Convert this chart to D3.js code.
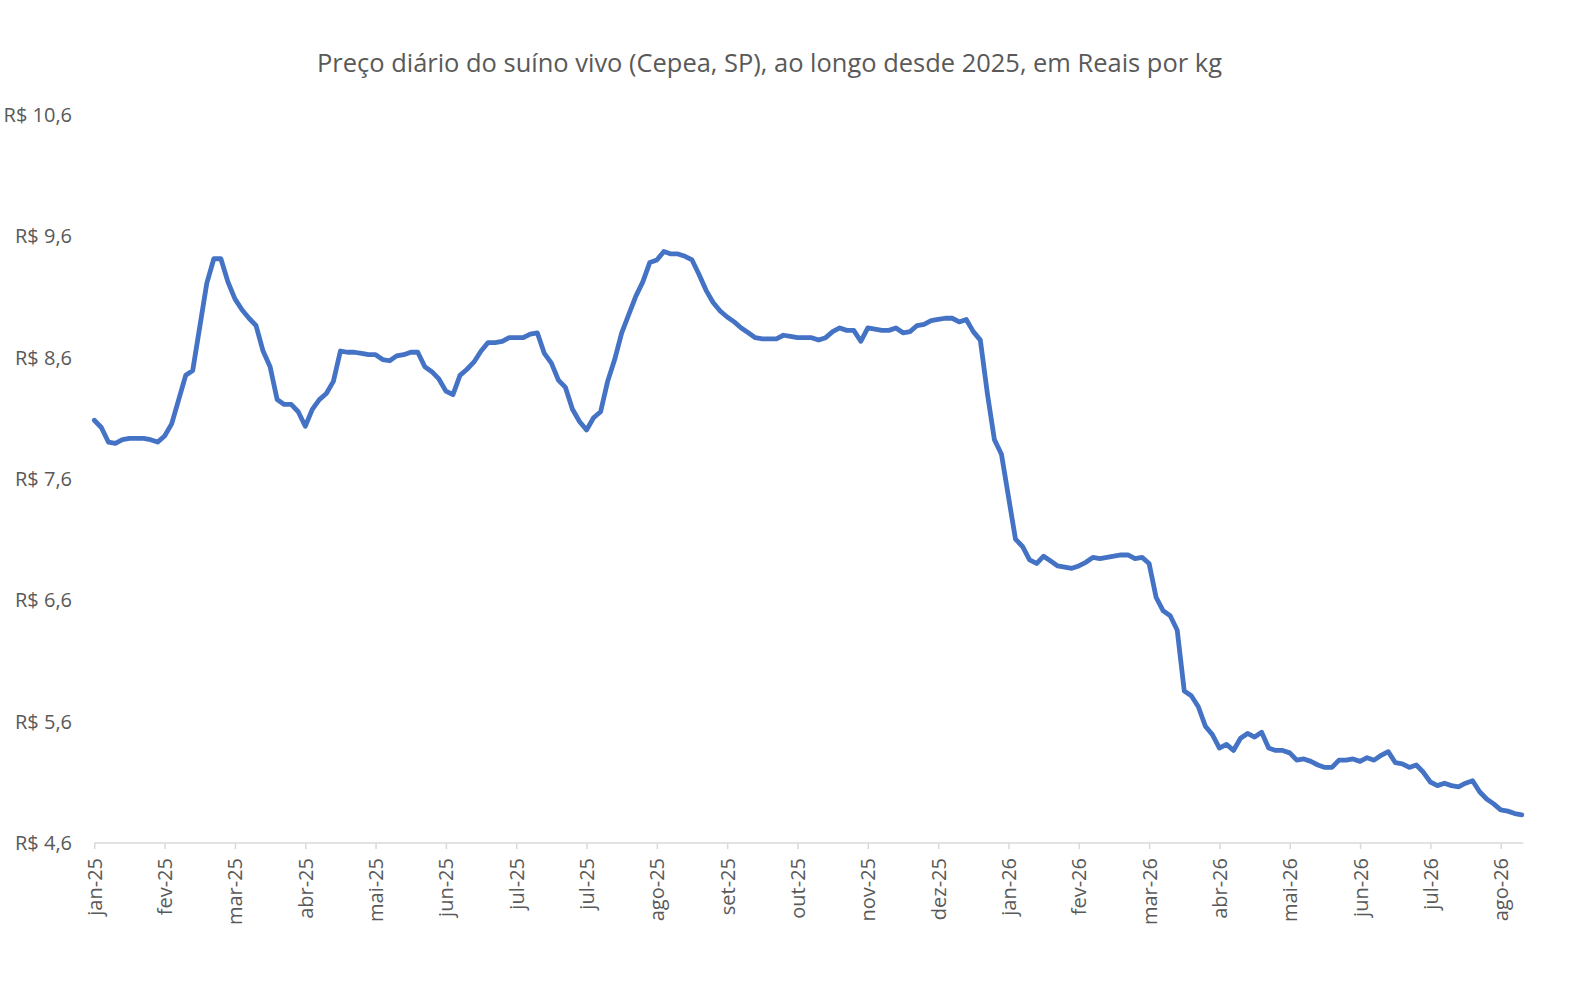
<!DOCTYPE html>
<html>
<head>
<meta charset="utf-8">
<script src="https://cdnjs.cloudflare.com/ajax/libs/d3/7.8.5/d3.min.js"></script>
<style>
  html, body { margin: 0; padding: 0; background: #ffffff; }
  svg { display: block; }
</style>
</head>
<body>
<svg id="chart" width="1581" height="984"></svg>
<script>
// ---- data ----
const titleText = "Preço diário do suíno vivo (Cepea, SP), ao longo desde 2025, em Reais por kg";

const tickLabels = ["jan-25","fev-25","mar-25","abr-25","mai-25","jun-25","jul-25","jul-25",
  "ago-25","set-25","out-25","nov-25","dez-25","jan-26","fev-26","mar-26","abr-26",
  "mai-26","jun-26","jul-26","ago-26"];

const pointsPerLabel = 10;

const yTicks = [4.6, 5.6, 6.6, 7.6, 8.6, 9.6, 10.6];

const prices = [
  8.08, 8.02, 7.90, 7.89, 7.92, 7.93, 7.93, 7.93, 7.92, 7.90,
  7.95, 8.05, 8.25, 8.45, 8.49, 8.85, 9.21, 9.41, 9.41, 9.22,
  9.08, 8.99, 8.92, 8.86, 8.65, 8.52, 8.25, 8.21, 8.21, 8.15,
  8.03, 8.17, 8.25, 8.30, 8.40, 8.65, 8.64, 8.64, 8.63, 8.62,
  8.62, 8.58, 8.57, 8.61, 8.62, 8.64, 8.64, 8.52, 8.48, 8.42,
  8.32, 8.29, 8.45, 8.50, 8.56, 8.65, 8.72, 8.72, 8.73, 8.76,
  8.76, 8.76, 8.79, 8.80, 8.63, 8.55, 8.41, 8.35, 8.17, 8.07,
  8.00, 8.10, 8.15, 8.40, 8.58, 8.80, 8.95, 9.10, 9.22, 9.38,
  9.40, 9.47, 9.45, 9.45, 9.43, 9.40, 9.28, 9.15, 9.05, 8.98,
  8.93, 8.89, 8.84, 8.80, 8.76, 8.75, 8.75, 8.75, 8.78, 8.77,
  8.76, 8.76, 8.76, 8.74, 8.76, 8.81, 8.84, 8.82, 8.82, 8.73,
  8.84, 8.83, 8.82, 8.82, 8.84, 8.80, 8.81, 8.86, 8.87, 8.90,
  8.91, 8.92, 8.92, 8.89, 8.91, 8.81, 8.74, 8.30, 7.92, 7.80,
  7.45, 7.10, 7.04, 6.93, 6.90, 6.96, 6.92, 6.88, 6.87, 6.86,
  6.88, 6.91, 6.95, 6.94, 6.95, 6.96, 6.97, 6.97, 6.94, 6.95,
  6.90, 6.62, 6.51, 6.47, 6.35, 5.85, 5.81, 5.72, 5.56, 5.49,
  5.38, 5.41, 5.36, 5.46, 5.50, 5.47, 5.51, 5.38, 5.36, 5.36,
  5.34, 5.28, 5.29, 5.27, 5.24, 5.22, 5.22, 5.28, 5.28, 5.29,
  5.27, 5.30, 5.28, 5.32, 5.35, 5.26, 5.25, 5.22, 5.24, 5.18,
  5.10, 5.07, 5.09, 5.07, 5.06, 5.09, 5.11, 5.02, 4.96, 4.92,
  4.87, 4.86, 4.84, 4.83
];

// ---- drawing ----
const svg = d3.select("#chart");
const textColor = "#595959";
const fontFam = "'Open Sans', 'Noto Sans', sans-serif";

const n = prices.length;
const x = d3.scaleLinear()
  .domain([0, n - 1])
  .range([94.3, 94.3 + (n - 1) * 7.032]);

const y = d3.scaleLinear()
  .domain([4.6, 10.6])
  .range([842.7, 114.3]);

// title
const title = svg.append("text")
  .attr("x", 769.5)
  .attr("y", 72)
  .attr("text-anchor", "middle")
  .attr("fill", textColor)
  .style("font-family", fontFam)
  .style("font-size", "25px")
  .text(titleText);
const tw = title.node().getComputedTextLength();
title.style("font-size", (25 * 905 / tw).toFixed(2) + "px");

// y axis (labels only)
const yAxis = d3.axisLeft(y)
  .tickValues(yTicks)
  .tickSize(0)
  .tickPadding(0)
  .tickFormat(d => "R$ " + d3.format(".1f")(d).replace(".", ","));
const gy = svg.append("g")
  .attr("transform", "translate(72,0)")
  .call(yAxis);
gy.select(".domain").remove();
gy.selectAll("text")
  .attr("x", 0)
  .attr("dy", "0.35em")
  .attr("fill", textColor)
  .style("font-family", fontFam)
  .style("font-size", "20px");

// x axis
const xAxis = d3.axisBottom(x)
  .tickValues(tickLabels.map((_, i) => i * pointsPerLabel))
  .tickSizeInner(6)
  .tickSizeOuter(0)
  .tickFormat((d, i) => tickLabels[i]);
const gx = svg.append("g")
  .attr("transform", "translate(0,843)")
  .call(xAxis);
gx.select(".domain")
  .attr("stroke", "#d9d9d9")
  .attr("stroke-width", 1.5)
  .attr("d", `M${x(0)},0H${x(n - 1) + 1.5}`);
gx.selectAll(".tick line")
  .attr("stroke", "#d9d9d9")
  .attr("stroke-width", 1.5);
gx.selectAll(".tick text")
  .attr("fill", textColor)
  .style("font-family", fontFam)
  .style("font-size", "20px")
  .attr("text-anchor", "end")
  .attr("transform", "rotate(-90)")
  .attr("x", -15)
  .attr("y", 0)
  .attr("dy", "0.35em");

// line
const line = d3.line()
  .x((d, i) => x(i))
  .y(d => y(d));

svg.append("path")
  .datum(prices)
  .attr("fill", "none")
  .attr("stroke", "#4472C4")
  .attr("stroke-width", 4.8)
  .attr("stroke-linejoin", "round")
  .attr("stroke-linecap", "round")
  .attr("d", line);
</script>
</body>
</html>
